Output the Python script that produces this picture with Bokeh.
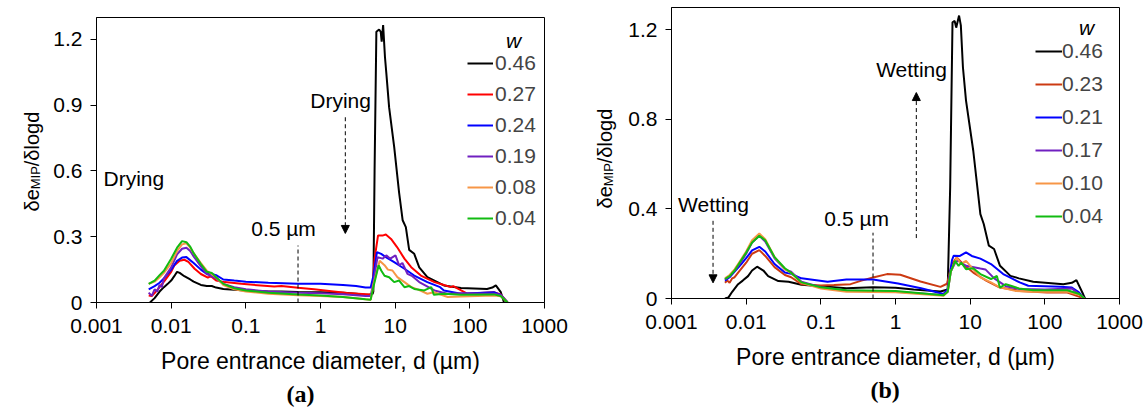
import math
from bokeh.plotting import figure
from bokeh.layouts import row
from bokeh.models import (Range1d, FixedTicker, Label, Arrow, NormalHead, Legend, LegendItem, Title)
from bokeh.core.properties import value
from bokeh.embed import file_html
from bokeh.resources import INLINE

# ---------------- data: axes ----------------
X_TICKS = [0.001, 0.01, 0.1, 1, 10, 100, 1000]
X_TICK_LABELS = ["0.001", "0.01", "0.1", "1", "10", "100", "1000"]
A_Y_TICKS = [0, 0.3, 0.6, 0.9, 1.2]
A_Y_TICK_LABELS = ["0", "0.3", "0.6", "0.9", "1.2"]
B_Y_TICKS = [0, 0.4, 0.8, 1.2]
B_Y_TICK_LABELS = ["0", "0.4", "0.8", "1.2"]

# ---------------- data: panel (a) drying ----------------
A_LABELS = ["0.46", "0.27", "0.24", "0.19", "0.08", "0.04"]
A_COLORS = ["#000000", "#FF0000", "#0000FF", "#7020C0", "#F79646", "#11BB11"]

A_D_046 = [0.0052, 0.006, 0.007, 0.008, 0.009, 0.01, 0.011, 0.012, 0.013, 0.015, 0.018, 0.02, 0.025, 0.03,
           0.035, 0.04, 0.05, 0.07, 0.1, 0.2, 0.3, 0.5, 1, 2, 3, 4, 4.6, 5.0, 5.1, 5.3, 5.6, 6.1, 6.4, 6.6,
           6.9, 7.3, 7.6, 8.3, 9.7, 11.3, 12.6, 13.9, 15.4, 18, 21, 27, 45, 76, 170, 200, 223, 260, 287]
A_V_046 = [0, 0.02, 0.05, 0.07, 0.085, 0.10, 0.12, 0.14, 0.135, 0.12, 0.105, 0.095, 0.08, 0.075,
           0.075, 0.068, 0.062, 0.058, 0.055, 0.05, 0.05, 0.048, 0.047, 0.045, 0.04, 0.035, 0.035, 0.04, 0.05,
           0.6, 1.235, 1.245, 1.235, 1.19, 1.265, 1.12, 1.05, 0.89, 0.71, 0.50, 0.375, 0.344, 0.24, 0.222,
           0.16, 0.116, 0.078, 0.066, 0.062, 0.068, 0.078, 0.047, 0.0]

A_D_027 = [0.005, 0.0055, 0.006, 0.007, 0.0082, 0.01, 0.011, 0.013, 0.015, 0.017, 0.0206, 0.025, 0.031, 0.034,
           0.04, 0.052, 0.087, 0.24, 0.3, 0.5, 0.82, 1.5, 2.3, 4.5, 4.9, 5.3, 5.9, 6.9, 7.5, 8.8, 10.6, 13.3,
           16.4, 22.1, 33.6, 45, 55.7, 60, 92, 210, 259, 320]
A_V_027 = [0.032, 0.03, 0.043, 0.07, 0.10, 0.14, 0.169, 0.19, 0.195, 0.185, 0.154, 0.13, 0.113, 0.12,
           0.10, 0.093, 0.085, 0.073, 0.075, 0.067, 0.06, 0.05, 0.043, 0.037, 0.04, 0.2, 0.306, 0.306, 0.31,
           0.29, 0.253, 0.20, 0.161, 0.123, 0.093, 0.08, 0.07, 0.075, 0.04, 0.047, 0.037, 0]

A_D_024 = [0.005, 0.006, 0.007, 0.008, 0.01, 0.012, 0.014, 0.016, 0.02, 0.025, 0.03, 0.035, 0.04, 0.05, 0.07,
           0.1, 0.2, 0.5, 1, 2, 3, 4, 4.7, 5.1, 5.7, 6.5, 7.5, 9.7, 13.3, 18, 27, 40, 45, 76, 210, 259, 320]
A_V_024 = [0.06, 0.075, 0.09, 0.11, 0.15, 0.19, 0.205, 0.207, 0.18, 0.15, 0.13, 0.13, 0.125, 0.105, 0.10,
           0.095, 0.09, 0.085, 0.085, 0.08, 0.075, 0.068, 0.068, 0.12, 0.23, 0.222, 0.207, 0.184, 0.154,
           0.123, 0.093, 0.07, 0.055, 0.04, 0.047, 0.035, 0]

A_D_019 = [0.005, 0.0055, 0.006, 0.0065, 0.007, 0.0075, 0.008, 0.01, 0.012, 0.014, 0.016, 0.018, 0.02, 0.025,
           0.03, 0.04, 0.05, 0.07, 0.1, 0.2, 0.5, 1, 2, 4, 4.7, 5.1, 5.8, 6.8, 7.6, 8.6, 10.1, 11.3, 12.5,
           14.6, 17, 21, 33.6, 50, 76, 210, 259, 320]
A_V_019 = [0.045, 0.03, 0.06, 0.05, 0.08, 0.07, 0.11, 0.16, 0.22, 0.245, 0.25, 0.235, 0.21, 0.165,
           0.13, 0.11, 0.085, 0.07, 0.06, 0.05, 0.045, 0.042, 0.038, 0.03, 0.03, 0.09, 0.207, 0.20, 0.215,
           0.20, 0.215, 0.17, 0.18, 0.131, 0.12, 0.093, 0.055, 0.04, 0.042, 0.04, 0.035, 0]

A_D_008 = [0.005, 0.006, 0.007, 0.008, 0.01, 0.012, 0.014, 0.016, 0.018, 0.02, 0.025, 0.03, 0.04, 0.05, 0.07,
           0.1, 0.2, 0.5, 1, 2, 4, 4.7, 5.1, 6.2, 7.2, 8.0, 9.2, 10.7, 13.3, 16.5, 20, 27, 33, 50.6, 76, 210,
           259, 320]
A_V_008 = [0.085, 0.095, 0.115, 0.135, 0.18, 0.235, 0.265, 0.27, 0.25, 0.225, 0.18, 0.145, 0.115, 0.08, 0.06,
           0.05, 0.04, 0.033, 0.03, 0.025, 0.015, 0.012, 0.08, 0.19, 0.17, 0.15, 0.146, 0.116, 0.093, 0.07,
           0.06, 0.04, 0.047, 0.025, 0.027, 0.032, 0.028, 0]

A_D_004 = [0.005, 0.006, 0.007, 0.008, 0.01, 0.012, 0.014, 0.016, 0.018, 0.02, 0.025, 0.03, 0.035, 0.04, 0.05,
           0.07, 0.1, 0.2, 0.5, 1, 2, 4, 4.7, 5.1, 6.0, 6.5, 7.2, 8.3, 9.7, 11.3, 13.3, 15.4, 18, 24.6, 30.4,
           33, 45, 76, 210, 259, 320]
A_V_004 = [0.085, 0.10, 0.125, 0.145, 0.20, 0.25, 0.28, 0.275, 0.255, 0.225, 0.175, 0.14, 0.135, 0.115, 0.085,
           0.065, 0.055, 0.045, 0.037, 0.032, 0.025, 0.015, 0.013, 0.07, 0.17, 0.146, 0.122, 0.115, 0.093,
           0.10, 0.07, 0.075, 0.062, 0.055, 0.07, 0.035, 0.04, 0.035, 0.037, 0.03, 0]

# ---------------- data: panel (b) wetting ----------------
B_LABELS = ["0.46", "0.23", "0.21", "0.17", "0.10", "0.04"]
B_COLORS = ["#000000", "#CC3A12", "#0000FF", "#7020C0", "#F79646", "#11BB11"]

B_D_046 = [0.0052, 0.0058, 0.0065, 0.0078, 0.009, 0.0106, 0.012, 0.014, 0.017, 0.0197, 0.027, 0.037, 0.055,
           0.1, 0.22, 0.5, 1, 1.75, 4, 5.0, 5.4, 5.8, 6.2, 6.5, 7.1, 7.5, 8.0, 8.8, 11, 13.7, 15.2, 17.8, 20.9,
           25.1, 34.6, 45, 70, 177, 230, 265, 325, 345]
B_V_046 = [0, 0.005, 0.03, 0.064, 0.08, 0.10, 0.125, 0.142, 0.125, 0.10, 0.078, 0.075, 0.061,
           0.055, 0.046, 0.05, 0.048, 0.04, 0.031, 0.04, 0.5, 1.234, 1.24, 1.21, 1.264, 1.22, 1.033, 0.884,
           0.66, 0.377, 0.333, 0.236, 0.221, 0.146, 0.101, 0.09, 0.075, 0.064, 0.07, 0.082, 0.02, 0]

B_D_023 = [0.0052, 0.0056, 0.006, 0.0065, 0.007, 0.008, 0.01, 0.012, 0.015, 0.018, 0.024, 0.033, 0.04, 0.055,
           0.1, 0.15, 0.25, 0.35, 0.5, 0.77, 1.16, 2.16, 4, 4.9, 5.7, 6.6, 8, 11, 16.6, 25, 46, 107, 200, 305,
           340]
B_V_023 = [0.07, 0.08, 0.07, 0.09, 0.095, 0.12, 0.16, 0.2, 0.216, 0.19, 0.14, 0.105, 0.095, 0.064,
           0.058, 0.06, 0.064, 0.08, 0.094, 0.109, 0.106, 0.076, 0.052, 0.066, 0.154, 0.183, 0.154, 0.116,
           0.079, 0.049, 0.034, 0.027, 0.027, 0.005, 0]

B_D_021 = [0.0052, 0.006, 0.007, 0.0086, 0.01, 0.012, 0.015, 0.018, 0.024, 0.033, 0.04, 0.055, 0.123, 0.22,
           0.5, 1.08, 2.2, 4.4, 5.0, 5.3, 5.7, 6.0, 7.3, 8.8, 10.5, 13.7, 19, 27.7, 34, 46, 60, 160, 230, 280,
           340]
B_V_021 = [0.08, 0.095, 0.12, 0.154, 0.18, 0.215, 0.231, 0.21, 0.154, 0.116, 0.11, 0.09, 0.075, 0.085,
           0.085, 0.067, 0.046, 0.02, 0.04, 0.1, 0.17, 0.191, 0.19, 0.206, 0.19, 0.178, 0.154, 0.109, 0.094,
           0.072, 0.057, 0.052, 0.049, 0.03, 0]

B_D_017 = [0.0052, 0.006, 0.007, 0.008, 0.01, 0.012, 0.015, 0.018, 0.024, 0.033, 0.04, 0.055, 0.1, 0.22, 1,
           4.4, 5.0, 5.5, 6.6, 8.8, 13.7, 16, 21, 30, 46, 100, 230, 340]
B_V_017 = [0.085, 0.10, 0.125, 0.15, 0.2, 0.25, 0.28, 0.255, 0.18, 0.13, 0.12, 0.075, 0.05, 0.036, 0.03,
           0.016, 0.03, 0.12, 0.173, 0.146, 0.134, 0.13, 0.09, 0.055, 0.042, 0.04, 0.045, 0]

B_D_010 = [0.0052, 0.006, 0.007, 0.008, 0.01, 0.012, 0.015, 0.018, 0.024, 0.033, 0.04, 0.055, 0.1, 0.22, 1,
           4.4, 5.0, 5.5, 6.6, 7.5, 8.8, 11, 13.7, 19, 25, 40, 70, 200, 300, 340]
B_V_010 = [0.09, 0.105, 0.13, 0.16, 0.21, 0.26, 0.29, 0.265, 0.185, 0.13, 0.115, 0.07, 0.045, 0.03, 0.028,
           0.012, 0.03, 0.12, 0.183, 0.155, 0.168, 0.13, 0.094, 0.072, 0.05, 0.034, 0.03, 0.03, 0.015, 0]

B_D_004 = [0.0052, 0.006, 0.007, 0.008, 0.01, 0.012, 0.015, 0.018, 0.024, 0.033, 0.04, 0.055, 0.1, 0.22, 1,
           4.4, 5.0, 5.5, 6.3, 7.0, 7.6, 8.8, 11, 13.7, 19, 22.8, 25, 30, 35, 45, 70, 200, 290, 340]
B_V_004 = [0.087, 0.10, 0.125, 0.155, 0.205, 0.25, 0.28, 0.26, 0.185, 0.135, 0.115, 0.072, 0.05, 0.037, 0.033,
           0.015, 0.03, 0.12, 0.168, 0.146, 0.16, 0.131, 0.135, 0.109, 0.087, 0.101, 0.049, 0.064, 0.057,
           0.045, 0.037, 0.037, 0.02, 0]

A_SERIES = [(A_D_046, A_V_046), (A_D_027, A_V_027), (A_D_024, A_V_024),
            (A_D_019, A_V_019), (A_D_008, A_V_008), (A_D_004, A_V_004)]
B_SERIES = [(B_D_046, B_V_046), (B_D_023, B_V_023), (B_D_021, B_V_021),
            (B_D_017, B_V_017), (B_D_010, B_V_010), (B_D_004, B_V_004)]

FONT = "Liberation Sans"
H = 411


def make_panel(width, bl, br, bt, bb, series, labels, colors, yticks, ytick_labels,
               legend_xy, legend_spacing, glyph_w, standoff, tag, tag_offset):
    p = figure(width=width, height=H, x_axis_type="log", output_backend="svg", title=None,
               toolbar_location=None, x_range=Range1d(0.001, 1000), y_range=Range1d(0, 1.3),
               min_border_left=bl, min_border_right=br, min_border_top=bt, min_border_bottom=bb)
    p.frame_align = False
    p.grid.visible = False
    p.outline_line_color = "black"
    p.outline_line_width = 1
    p.background_fill_color = "white"
    p.border_fill_color = "white"

    p.xaxis.ticker = FixedTicker(ticks=X_TICKS, minor_ticks=[])
    p.xaxis.major_label_overrides = {t: s for t, s in zip(X_TICKS, X_TICK_LABELS)}
    p.yaxis.ticker = FixedTicker(ticks=yticks, minor_ticks=[])
    p.yaxis.major_label_overrides = {t: s for t, s in zip(yticks, ytick_labels)}
    for ax in (p.xaxis[0], p.yaxis[0]):
        ax.axis_line_color = "black"
        ax.major_tick_line_color = "black"
        ax.major_tick_out = 6
        ax.major_tick_in = 0
        ax.minor_tick_out = 0
        ax.minor_tick_in = 0
        ax.major_label_text_font = FONT
        ax.major_label_text_font_size = "21px"
        ax.major_label_text_color = "black"
    p.yaxis.major_label_standoff = 8
    p.xaxis.major_label_standoff = 10
    p.xaxis.axis_label = "Pore entrance diameter, d (µm)"
    p.xaxis.axis_label_text_font = FONT
    p.xaxis.axis_label_text_font_size = "23px"
    p.xaxis.axis_label_text_font_style = "normal"
    p.xaxis.axis_label_text_color = "black"
    p.xaxis.axis_label_standoff = 12

    items = []
    for (d, v), lab, col in zip(series, labels, colors):
        r = p.line(d, v, line_color=col, line_width=2)
        items.append(LegendItem(label=lab, renderers=[r]))
    leg = Legend(items=items, location=legend_xy, glyph_width=glyph_w, glyph_height=22,
                 label_height=22, spacing=legend_spacing, label_standoff=standoff, padding=0, margin=0,
                 border_line_alpha=0, background_fill_alpha=0,
                 label_text_font=FONT, label_text_font_size="21px")
    p.add_layout(leg)
    p.add_layout(Title(text=tag, align="left", offset=tag_offset, standoff=5,
                       text_font="Liberation Serif", text_font_size="24px",
                       text_font_style="bold", text_color="black"), "below")
    return p


def ylabel_fig(width, x0, y0):
    f = figure(width=width, height=H, output_backend="svg", toolbar_location=None, title=None,
               x_range=Range1d(0, width), y_range=Range1d(0, H),
               x_axis_location=None, y_axis_location=None, min_border=0)
    f.frame_align = False
    f.outline_line_color = None
    f.grid.visible = False
    kw = dict(angle=math.pi / 2, text_align="left", text_baseline="alphabetic",
              text_font=value(FONT), text_color="black")
    f.text(x=[x0], y=[y0], text=["δe"], text_font_size=value("20px"), **kw)
    f.text(x=[x0 + 4], y=[y0 + 22.2], text=["MIP"], text_font_size=value("13px"), **kw)
    f.text(x=[x0], y=[y0 + 22.2 + 23.1], text=["/δlogd"], text_font_size=value("20px"), **kw)
    return f


def note(p, x, y, text, align="left"):
    p.add_layout(Label(x=x, y=y, text=text, text_align=align, text_baseline="middle",
                       text_font=FONT, text_font_size="21px", text_color="black"))


def dashed_arrow(p, x, y0, y1):
    p.add_layout(Arrow(x_start=x, y_start=y0, x_end=x, y_end=y1, line_dash="4 3", line_width=1,
                       line_color="black",
                       end=NormalHead(size=8, fill_color="black", line_color="black", line_width=1)))


def w_title(p, x, y):
    p.add_layout(Label(x=x, y=y, x_units="screen", y_units="screen", text="w", text_align="center",
                       text_baseline="middle", text_font=FONT, text_font_size="21px",
                       text_font_style="italic", text_color="black"))


# ---------------- panel (a) ----------------
la = ylabel_fig(50, 31, 200)
pa = make_panel(530, 45, 36, 17, 109, A_SERIES, A_LABELS, A_COLORS, A_Y_TICKS, A_Y_TICK_LABELS,
                (371, 72), 7, 26, 2, "(a)", 190)
note(pa, 0.00124, 0.566, "Drying")
note(pa, 0.32, 0.338, "0.5 µm", "center")
note(pa, 1.86, 0.923, "Drying", "center")
pa.segment(x0=[0.5], y0=[0], x1=[0.5], y1=[0.26], line_dash="4 3", line_width=1, line_color="black")
dashed_arrow(pa, 2.15, 0.845, 0.315)
w_title(pa, 417, 262)

# ---------------- panel (b) ----------------
lb = ylabel_fig(45, 24, 203)
pb = make_panel(521, 45, 27, 7, 113, B_SERIES, B_LABELS, B_COLORS, B_Y_TICKS, B_Y_TICK_LABELS,
                (364, 70), 9, 27, 0, "(b)", 199)
note(pb, 0.00365, 0.419, "Wetting", "center")
note(pb, 0.302, 0.356, "0.5 µm", "center")
note(pb, 1.64, 1.022, "Wetting", "center")
pb.segment(x0=[0.5], y0=[0], x1=[0.5], y1=[0.294], line_dash="4 3", line_width=1, line_color="black")
dashed_arrow(pb, 0.0036, 0.347, 0.07)
dashed_arrow(pb, 1.9, 0.27, 0.92)
w_title(pb, 415, 271)

layout = row(la, pa, lb, pb)
open("out.html", "w").write(file_html(layout, INLINE))
